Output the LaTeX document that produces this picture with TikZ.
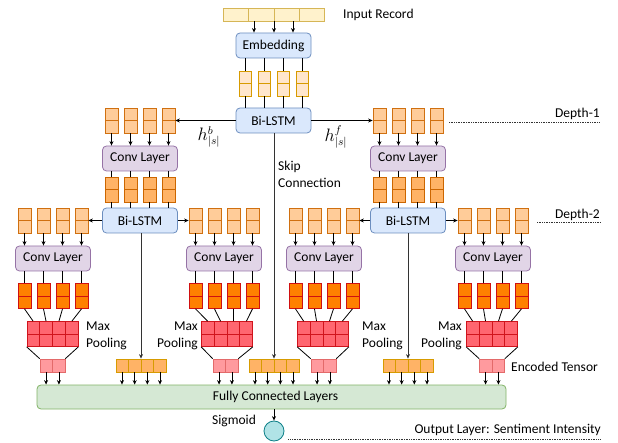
\documentclass[tikz,border=0pt]{standalone}
\usepackage{fontspec}
\setmainfont{Carlito}
\usetikzlibrary{arrows.meta,calc}
\definecolor{infill}{HTML}{FFF2CC}\definecolor{indraw}{HTML}{D6B656}
\definecolor{bfill}{HTML}{DAE8FC}\definecolor{bdraw}{HTML}{6C8EBF}
\definecolor{efill}{HTML}{FFE6CC}\definecolor{edraw}{HTML}{D79B00}
\definecolor{lfill}{HTML}{FFCC99}\definecolor{ldraw}{HTML}{D07010}
\definecolor{mfill}{HTML}{FFB366}\definecolor{mdraw}{HTML}{CC6600}
\definecolor{cfill}{HTML}{E1D5E7}\definecolor{cdraw}{HTML}{9673A6}
\definecolor{dfill}{HTML}{FF8000}\definecolor{ddraw}{HTML}{D01010}
\definecolor{pfill}{HTML}{FF6670}\definecolor{pdraw}{HTML}{D0141C}
\definecolor{encfill}{HTML}{FF9A9E}\definecolor{encdraw}{HTML}{E36A6A}
\definecolor{sfill}{HTML}{FFB366}\definecolor{sdraw}{HTML}{D79B00}
\definecolor{gfill}{HTML}{D5E8D4}\definecolor{gdraw}{HTML}{82B366}
\definecolor{tfill}{HTML}{B0E3E6}\definecolor{tdraw}{HTML}{0E8088}
\tikzset{
  txt/.style={font=\fontsize{13.5}{17}\selectfont, inner sep=0pt},
  box/.style={txt, rounded corners=4pt, minimum width=75pt, minimum height=25pt, line width=0.8pt},
  bluebox/.style={box, fill=bfill, draw=bdraw},
  convbox/.style={box, fill=cfill, draw=cdraw},
  vec/.style 2 args={fill=#1, draw=#2, minimum width=13pt, minimum height=25pt, inner sep=0pt, line width=0.7pt,
    path picture={\draw[#2,line width=0.7pt] (path picture bounding box.west) -- (path picture bounding box.east);}},
  cells/.style 2 args={inner sep=0pt, line width=0.7pt,
    path picture={\foreach \ff in {#1}{\draw[#2,line width=0.7pt] ($(path picture bounding box.south west)!\ff!(path picture bounding box.south east)$) -- ($(path picture bounding box.north west)!\ff!(path picture bounding box.north east)$);}}},
  poolbox/.style={fill=pfill, draw=pdraw, minimum width=51pt, minimum height=25pt, inner sep=0pt, line width=0.7pt,
    path picture={\foreach \ff in {0.25,0.5,0.75}{\draw[pdraw,line width=0.7pt] ($(path picture bounding box.south west)!\ff!(path picture bounding box.south east)$) -- ($(path picture bounding box.north west)!\ff!(path picture bounding box.north east)$);}
    \draw[pdraw,line width=0.7pt] (path picture bounding box.west) -- (path picture bounding box.east);}},
  encbox/.style={cells={0.5}{encdraw}, fill=encfill, draw=encdraw, minimum width=25pt, minimum height=13pt},
  skipvec/.style={cells={0.25,0.5,0.75}{sdraw}, fill=sfill, draw=sdraw, minimum width=50pt, minimum height=13pt},
  conn/.style={line width=0.8pt, black},
  arr/.style={conn, -{Stealth[length=4.5pt,width=4pt]}},
  skipline/.style={line width=1pt, black!80, -{Stealth[length=4.5pt,width=4pt]}},
  dotline/.style={line width=0.7pt, black!80, densely dotted}
}
\begin{document}
\begin{tikzpicture}[x=1pt,y=-1pt]
\useasboundingbox (0,0) rectangle (618,443);

% ---------- input and embedding ----------
\node[cells={0.25,0.5,0.75}{indraw}, fill=infill, draw=indraw, minimum width=101pt, minimum height=13pt] (inp) at (274,14.5) {};
\node[txt, anchor=west] (inplbl) at (343,14.5) {Input Record};
\node[bluebox] (emb) at (273.5,45.5) {Embedding};
\foreach \x in {254,274,293}{
  \coordinate (ia) at (\x,21); 
  \draw[arr] (ia |- inp.south) -- (ia |- emb.north);}
\node[bluebox] (bl0) at (273.5,120.5) {Bi-LSTM};
\foreach \i/\x in {1/245.5,2/264.5,3/283.5,4/302.5}{
  \node[vec={efill}{edraw}, minimum width=12pt] (e\i) at (\x,83.5) {};
  \draw[conn] (e\i.north |- emb.south) -- (e\i.north);
  \draw[conn] (e\i.south) -- (e\i.south |- bl0.north);
}

% ---------- depth-1 ----------
\foreach \g/\cx in {L/140, R/408}{
  \node[convbox] (conv\g) at (\cx,158.5) {Conv Layer};
  \node[bluebox] (bl\g) at (\cx,220.5) {Bi-LSTM};
  \foreach \k in {1,...,4}{
    \pgfmathsetmacro\vx{\cx+19*(\k-2.5)}
    \node[vec={lfill}{ldraw}] (t\g\k) at (\vx,120.5) {};
    \node[vec={mfill}{mdraw}] (m\g\k) at (\vx,189.5) {};
    \draw[arr] (t\g\k.south) -- (t\g\k.south |- conv\g.north);
    \draw[conn] (m\g\k.north |- conv\g.south) -- (m\g\k.north);
    \draw[conn] (m\g\k.south) -- (m\g\k.south |- bl\g.north);
  }
}
\draw[arr] (bl0.west) -- (tL4.east);
\draw[arr] (bl0.east) -- (tR1.west);
\node[txt] (hb) at (209,137) {\scalebox{1.25}{$h^{b}_{|s|}$}};
\node[txt] (hf) at (336,137) {\scalebox{1.25}{$h^{f}_{|s|}$}};
\node[txt, align=left, anchor=west] (skiplbl) at (278,174.5) {Skip\\Connection};

% ---------- fully connected + output ----------
\node[fill=gfill, draw=gdraw, rounded corners=4pt, line width=0.8pt, minimum width=469pt, minimum height=24pt] (fc) at (271.5,397) {};
\node[txt] (fclbl) at (275.5,397) {Fully Connected Layers};
\node[circle, fill=tfill, draw=tdraw, line width=0.8pt, minimum size=20pt, inner sep=0pt] (sig) at (274,431) {};
\draw[arr] (sig.north |- fc.south) -- (sig.north);
\node[txt] (siglbl) at (234,421) {Sigmoid};

% ---------- depth-2 ----------
\foreach \g/\cx/\px/\ex in {A/53/52.5/52.5, B/224/227/225.5, C/324/323/323.5, D/493/492/492}{
  \node[convbox] (conv\g) at (\cx,258.5) {Conv Layer};
  \foreach \k in {1,...,4}{
    \pgfmathsetmacro\vx{\cx+19*(\k-2.5)}
    \node[vec={lfill}{ldraw}] (l\g\k) at (\vx,220.5) {};
    \node[vec={dfill}{ddraw}] (d\g\k) at (\vx,296) {};
    \draw[arr] (l\g\k.south) -- (l\g\k.south |- conv\g.north);
    \draw[conn] (d\g\k.north |- conv\g.south) -- (d\g\k.north);
  }
  \node[poolbox] (pool\g) at (\px,334) {};
  \foreach \k in {1,...,4}{
    \pgfmathsetmacro\ff{(2*\k-1)/8}
    \coordinate (pt) at ($(pool\g.north west)!\ff!(pool\g.north east)$);
    \draw[conn] (d\g\k.south) -- (pt);
  }
  \node[encbox] (enc\g) at (\ex,365.5) {};
  \draw[conn] (pool\g.south west) -- (enc\g.north west);
  \draw[conn] (pool\g.south east) -- (enc\g.north east);
  \foreach \ff in {0.25,0.75}{
    \coordinate (es) at ($(enc\g.south west)!\ff!(enc\g.south east)$);
    \draw[arr] (es) -- (es |- fc.north);
  }
}
\draw[arr] (blL.west) -- (lA4.east);
\draw[arr] (blL.east) -- (lB1.west);
\draw[arr] (blR.west) -- (lC4.east);
\draw[arr] (blR.east) -- (lD1.west);

% max pooling labels
\node[txt, align=left, anchor=west] (mpA) at (86,336) {Max\\Pooling};
\node[txt, align=right, anchor=east] (mpB) at (198,336) {Max\\Pooling};
\node[txt, align=left, anchor=west] (mpC) at (362,336) {Max\\Pooling};
\node[txt, align=right, anchor=east] (mpD) at (462,336) {Max\\Pooling};
\node[txt, anchor=west] (enclbl) at (511,367) {Encoded Tensor};

% ---------- skip connections ----------
\node[skipvec] (sv0) at (274,365.5) {};
\node[skipvec] (svL) at (141,365.5) {};
\node[skipvec] (svR) at (408,365.5) {};
\draw[skipline] (sv0.north |- bl0.south) -- (sv0.north);
\draw[skipline] (svL.north |- blL.south) -- (svL.north);
\draw[skipline] (svR.north |- blR.south) -- (svR.north);
\foreach \s in {sv0,svL,svR}{
  \foreach \ff in {0.125,0.375,0.625,0.875}{
    \coordinate (ss) at ($(\s.south west)!\ff!(\s.south east)$);
    \draw[arr] (ss) -- (ss |- fc.north);
  }
}

% ---------- depth markers ----------
\node[txt, anchor=east] (d1lbl) at (600,114) {Depth-1};
\coordinate (d1a) at (449,122); \coordinate (d1b) at (600,122);
\draw[dotline] (d1a) -- (d1b);
\node[txt, anchor=east] (d2lbl) at (600,215) {Depth-2};
\coordinate (d2a) at (537,222); \coordinate (d2b) at (600,222);
\draw[dotline] (d2a) -- (d2b);
\node[txt, anchor=east] (outlbl) at (601,430) {Output Layer: Sentiment Intensity};
\coordinate (oute) at (600,439);
\coordinate (outs) at ([xshift=4pt]sig.east);
\draw[dotline] (outs |- oute) -- (oute);
\end{tikzpicture}
\end{document}
